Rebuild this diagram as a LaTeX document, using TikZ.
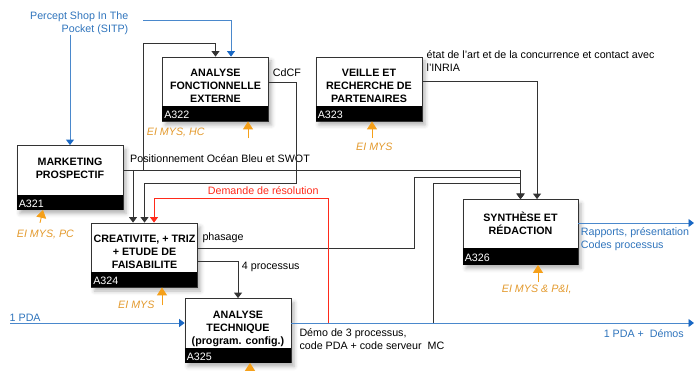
\documentclass[tikz,border=0pt]{standalone}
\usepackage{fontspec}
\setmainfont{Liberation Sans}
\usetikzlibrary{arrows.meta,positioning,shadows.blur}
\definecolor{lblue}{HTML}{4A88CC}
\definecolor{dblue}{HTML}{1A68C4}
\definecolor{tblue}{HTML}{2F74BC}
\definecolor{lorange}{HTML}{F5A01A}
\definecolor{torange}{HTML}{E39A2E}
\definecolor{lred}{HTML}{FF2A1A}
\begin{document}
\begin{tikzpicture}[x=1pt, y=-1pt,
  act/.style={draw=black!80, fill=white, line width=0.8pt, inner sep=0pt,
    minimum width=#1, minimum height=64pt,
    blur shadow={shadow xshift=3pt, shadow yshift=-4pt, shadow blur radius=4pt, shadow opacity=30}},
  act/.default=106pt,
  ttl/.style={align=center, inner sep=0pt, font=\fontsize{10.7}{13}\selectfont\bfseries,
    execute at begin node=\strut},
  code/.style={fill=black, text=white, anchor=south west, inner xsep=2pt, inner ysep=0pt,
    minimum height=15pt, text height=12pt, text depth=1.5pt, text width=#1,
    font=\fontsize{10.7}{13}\selectfont},
  code/.default=102pt,
  lbl/.style={inner sep=0pt, font=\fontsize{10.7}{13}\selectfont},
  blbl/.style={lbl, text=tblue},
  olbl/.style={lbl, text=torange, font=\fontsize{10.7}{13}\selectfont\itshape},
  flow/.style={draw=black!80, line width=0.9pt, -{Triangle[width=8pt,length=5.5pt]}},
  bflow/.style={draw=lblue, line width=0.9pt, -{Triangle[width=8pt,length=5.5pt,color=dblue]}},
  rflow/.style={draw=lred, line width=0.9pt, -{Triangle[width=8pt,length=5.5pt]}},
  mech/.style={draw=lorange, line width=0.9pt, -{Triangle[width=10pt,length=8pt]}}]
  \useasboundingbox (0,0) rectangle (694,371);

  \node[act] (a321) at (70,177.5) {};
  \node[ttl, below=12.5pt of a321.north] (a321t) {MARKETING\\PROSPECTIF};
  \node[code] (a321c) at (a321.south west) {A321};

  \node[act] (a322) at (215.5,89) {};
  \node[ttl, below=12.5pt of a322.north] (a322t) {ANALYSE\\FONCTIONNELLE\\EXTERNE};
  \node[code] (a322c) at (a322.south west) {A322};

  \node[act] (a323) at (369,89) {};
  \node[ttl, below=12.5pt of a323.north] (a323t) {VEILLE ET\\RECHERCHE DE\\PARTENAIRES};
  \node[code] (a323c) at (a323.south west) {A323};

  \node[act] (a324) at (144.5,255) {};
  \node[ttl, below=12.5pt of a324.north] (a324t) {CREATIVITE, + TRIZ\\+ ETUDE DE\\FAISABILITE};
  \node[code] (a324c) at (a324.south west) {A324};

  \node[act] (a325) at (238,330.5) {};
  \node[ttl, below=12.5pt of a325.north] (a325t) {ANALYSE\\TECHNIQUE\\(program. config.)};
  \node[code] (a325c) at (a325.south west) {A325};

  \node[act=115pt, minimum height=65pt] (a326) at (520.5,232) {};
  \node[ttl, below=13pt of a326.north] (a326t) {SYNTHÈSE ET\\RÉDACTION};
  \node[code=111pt, minimum height=17pt] (a326c) at (a326.south west) {A326};

  \node[blbl, align=right, anchor=north east] (sitp) at (128.5,11.2) {Percept Shop In The\\Pocket (SITP)};
  \node[lbl, anchor=base west] (lpos) at (130,162.5) {Positionnement Océan Bleu et SWOT};
  \node[lbl, anchor=base west] (lcd) at (272.7,77) {CdCF};
  \node[lbl, align=left, anchor=north west] (letat) at (426.5,50.5) {état de l’art et de la concurrence et contact avec\\l’INRIA};
  \node[lbl, anchor=base west, text=lred] (ldem) at (207.7,195) {Demande de résolution};
  \node[lbl, anchor=base west] (lph) at (202.3,240.5) {phasage};
  \node[lbl, anchor=base west] (lproc) at (241.7,270) {4 processus};
  \node[blbl, anchor=base west] (lpda) at (9.5,321.3) {1 PDA};
  \node[lbl, align=left, anchor=north west] (ldemo) at (299.3,328.2) {\fontsize{10.7}{14.5}\selectfont Démo de 3 processus,\\code PDA + code serveur~ MC};
  \node[blbl, anchor=base east] (lout) at (684,337.3) {1 PDA +~ Démos};
  \node[blbl, align=left, anchor=north west] (lrap) at (580.7,227.9) {Rapports, présentation\\Codes processus};

  \node[olbl, anchor=base west] (o322) at (146.7,136) {EI MYS, HC};
  \node[olbl, anchor=base west] (o323) at (356,150.7) {EI MYS};
  \node[olbl, anchor=base west] (o321) at (16.7,237.7) {EI MYS, PC};
  \node[olbl, anchor=base west] (o324) at (118,308.3) {EI MYS};
  \node[olbl, anchor=base west] (o326) at (501.7,292.3) {EI MYS \& P\&I,};

  \coordinate (sitpr) at (143,20);
  \coordinate (fb) at (143,43);
  \coordinate (cd) at (296,183);
  \coordinate (ph) at (414,177);
  \coordinate (dm) at (433,183);
  \coordinate (rd) at (328,198);
  \coordinate (lft) at (10,0);
  \coordinate (rgt) at (694,0);
  \coordinate (pos) at ([yshift=7.5pt]a321.east);
  \coordinate (out) at ([yshift=7.5pt]a325.east);
  \coordinate (in) at ([yshift=7.5pt]a325.west);
  \coordinate (rap) at ([yshift=9pt]a326.east);
  \coordinate (c2) at ([xshift=15.5pt]a322.north);
  \coordinate (c4a) at ([xshift=-11.5pt]a324.north);
  \coordinate (c4r) at ([xshift=9.5pt]a324.north);
  \coordinate (c6) at ([xshift=16.5pt]a326.north);

  \draw[bflow] (sitpr) -| (c2);
  \draw[bflow] (sitp.south -| a321.north) -- (a321.north);

  \draw[flow] (pos) -| (a326.north);
  \draw[flow] (c4a |- pos) -- (c4a);
  \draw[flow] (fb |- pos) -- (fb) -| (a322.north);

  \draw[flow] ([yshift=7pt]a322.east) -| (cd) -| (a324.north);
  \draw[flow] ([yshift=8pt]a323.east) -| (c6);
  \draw[flow] ([yshift=6.5pt]a324.east) -| (ph) -| (a326.north);
  \draw[flow] ([yshift=-6pt]a324.east) -| (a325.north);

  \draw[bflow] (in -| lft) -- (in);
  \draw[bflow] (out) -- (out -| rgt);
  \draw[bflow] (rap) -- (rap -| rgt);
  \draw[flow] (dm |- out) -- (dm) -| (a326.north);
  \draw[rflow] (rd |- out) -- (rd) -| (c4r);

  \draw[mech] ([shift={(-30pt,-13pt)}]a321.south) -- ([xshift=-27pt]a321.south);
  \draw[mech] ([shift={(32.5pt,-17pt)}]a322.south) -- ([xshift=32.5pt]a322.south);
  \draw[mech] ([shift={(3pt,-17pt)}]a323.south) -- ([xshift=3pt]a323.south);
  \draw[mech] ([shift={(17.5pt,-18pt)}]a324.south) -- ([xshift=17.5pt]a324.south);
  \draw[mech] ([shift={(12pt,-12pt)}]a325.south) -- ([xshift=12pt]a325.south);
  \draw[mech] ([shift={(17.5pt,-17pt)}]a326.south) -- ([xshift=17.5pt]a326.south);
\end{tikzpicture}
\end{document}
